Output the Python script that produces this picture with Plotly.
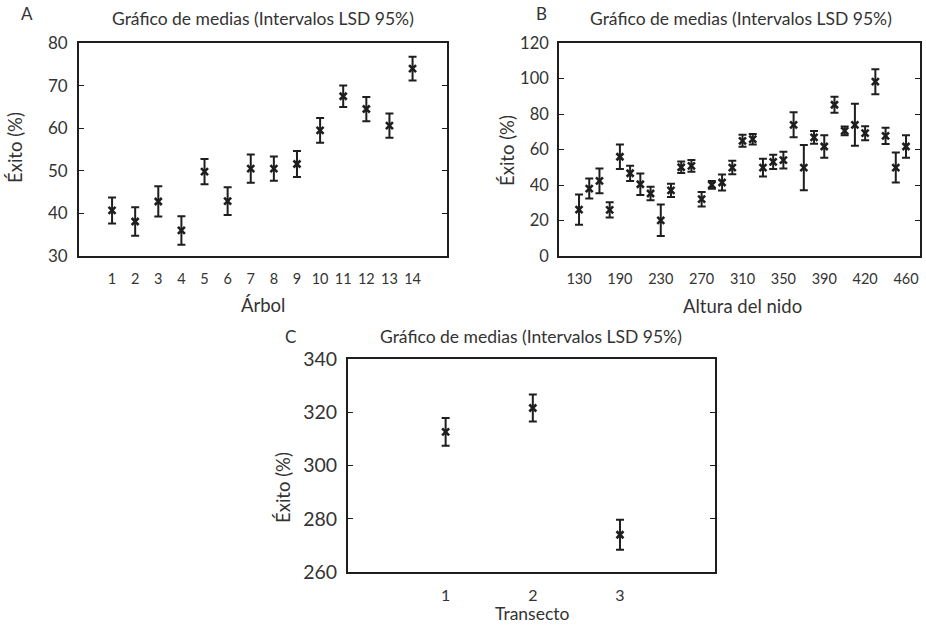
import plotly.graph_objects as go

# ---------------- data ----------------
arbol = list(range(1, 15))
exito_arbol = [40.7, 38.1, 42.8, 36.0, 49.8, 42.9, 50.5, 50.5, 51.6, 59.5, 67.5, 64.5, 60.6, 74.0]
lsd_arbol = [3.05, 3.35, 3.55, 3.35, 2.95, 3.25, 3.3, 2.85, 3.05, 2.9, 2.55, 2.85, 2.85, 2.8]

altura = ["130", "150", "160", "170", "190", "200", "210", "220", "230", "240", "250",
          "260", "270", "280", "290", "300", "310", "320", "330", "340", "350", "360",
          "370", "380", "390", "400", "405", "410", "420", "430", "440", "450", "460"]
altura_ticks = ["130", "190", "230", "270", "310", "350", "390", "420", "460"]
exito_altura = [26.1, 38.0, 42.3, 26.0, 55.9, 46.6, 40.4, 35.2, 20.1, 37.0, 50.0,
                50.8, 32.0, 40.1, 41.4, 49.8, 64.9, 65.8, 49.8, 53.0, 54.0, 73.9,
                49.8, 66.8, 61.7, 85.2, 70.5, 73.9, 69.2, 98.2, 67.7, 49.8, 61.7]
lsd_altura = [8.55, 5.65, 7.0, 4.25, 6.9, 4.3, 6.1, 3.75, 8.9, 3.75, 3.3,
              3.35, 4.05, 2.2, 4.5, 3.8, 3.35, 3.0, 5.0, 4.05, 4.7, 7.05,
              12.7, 3.6, 6.35, 4.5, 2.45, 11.85, 3.95, 7.05, 4.55, 8.45, 6.3]

transecto = [1, 2, 3]
exito_transecto = [312.6, 321.6, 274.0]
lsd_transecto = [5.2, 5.1, 5.6]

TITLE = "Gráfico de medias (Intervalos LSD 95%)"
W, H = 926, 626
FONT = "Lato"
TXT = "#333333"
INK = "#1e1e1e"


def px(x):
    return x / W


def py(y):
    return 1 - y / H


def trace(x, y, e, xa, ya):
    return go.Scatter(
        x=x, y=y, mode="markers", xaxis=xa, yaxis=ya, showlegend=False,
        marker=dict(symbol="x-thin", size=7, line=dict(width=2.6, color=INK), color=INK),
        error_y=dict(type="data", array=e, visible=True, thickness=2, width=4, color=INK),
    )


fig = go.Figure()
fig.add_trace(trace(arbol, exito_arbol, lsd_arbol, "x", "y"))
fig.add_trace(trace(altura, exito_altura, lsd_altura, "x2", "y2"))
fig.add_trace(trace(transecto, exito_transecto, lsd_transecto, "x3", "y3"))


def xax(domain, anchor, rng, size, standoff, **kw):
    d = dict(domain=domain, anchor=anchor, range=rng, showline=True, mirror=True,
             linecolor=INK, linewidth=1.5, ticks="", showgrid=False, zeroline=False,
             automargin=False,
             tickfont=dict(family=FONT, size=size, color=TXT), ticklabelstandoff=standoff)
    d.update(kw)
    return d


def yax(domain, anchor, rng, dtick, size, standoff):
    return dict(domain=domain, anchor=anchor, range=rng, dtick=dtick, showline=True,
                mirror="ticks", linecolor=INK, linewidth=1.8, ticks="inside", ticklen=5,
                tickwidth=1.3, tickcolor=INK, showgrid=False, zeroline=False,
                automargin=False,
                tickfont=dict(family=FONT, size=size, color=TXT), ticklabelstandoff=standoff)


fig.update_layout(
    width=W, height=H, margin=dict(l=0, r=0, t=0, b=0, pad=0, autoexpand=False),
    autosize=False, showlegend=False,
    paper_bgcolor="white", plot_bgcolor="white",
    xaxis=xax([px(79), px(447)], "y", [-0.43, 15.49], 14.5, 9, tickmode="array", tickvals=arbol),
    yaxis=yax([py(256), py(43)], "x", [30, 80], 10, 17, 6),
    xaxis2=xax([px(559), px(920)], "y2", [-1.96, 33.37], 14.5, 9, type="category",
               tickmode="array", tickvals=altura_ticks, ticktext=altura_ticks),
    yaxis2=yax([py(256), py(43)], "x2", [0, 120], 20, 16.5, 5),
    xaxis3=xax([px(348), px(715)], "y3", [-0.12, 4.09], 16, 8, tickmode="array", tickvals=transecto),
    yaxis3=yax([py(572), py(359)], "x3", [260, 340], 20, 19.5, 5),
)

ann = []


def text(x, y, s, size, angle=0):
    ann.append(dict(x=px(x), y=py(y), xref="paper", yref="paper", text=s, showarrow=False,
                    xanchor="center", yanchor="middle", textangle=angle,
                    font=dict(family=FONT, size=size, color=TXT)))


text(27, 14, "A", 17)
text(541, 14, "B", 17)
text(290, 336, "C", 17)
text(263, 18, TITLE, 17.5)
text(741, 18, TITLE, 17.5)
text(531, 336, TITLE, 17.5)
text(15, 148, "Éxito (%)", 18.5, -90)
text(507, 150, "Éxito (%)", 18.5, -90)
text(283, 488, "Éxito (%)", 18.5, -90)
text(263, 305, "Árbol", 18.5)
text(742, 306, "Altura del nido", 18.5)
text(532, 613, "Transecto", 17.5)
fig.update_layout(annotations=ann)

fig.write_html(
    "out.html",
    config={"displayModeBar": False},
    post_script="document.body.style.margin='0';document.body.style.overflow='hidden';",
)
